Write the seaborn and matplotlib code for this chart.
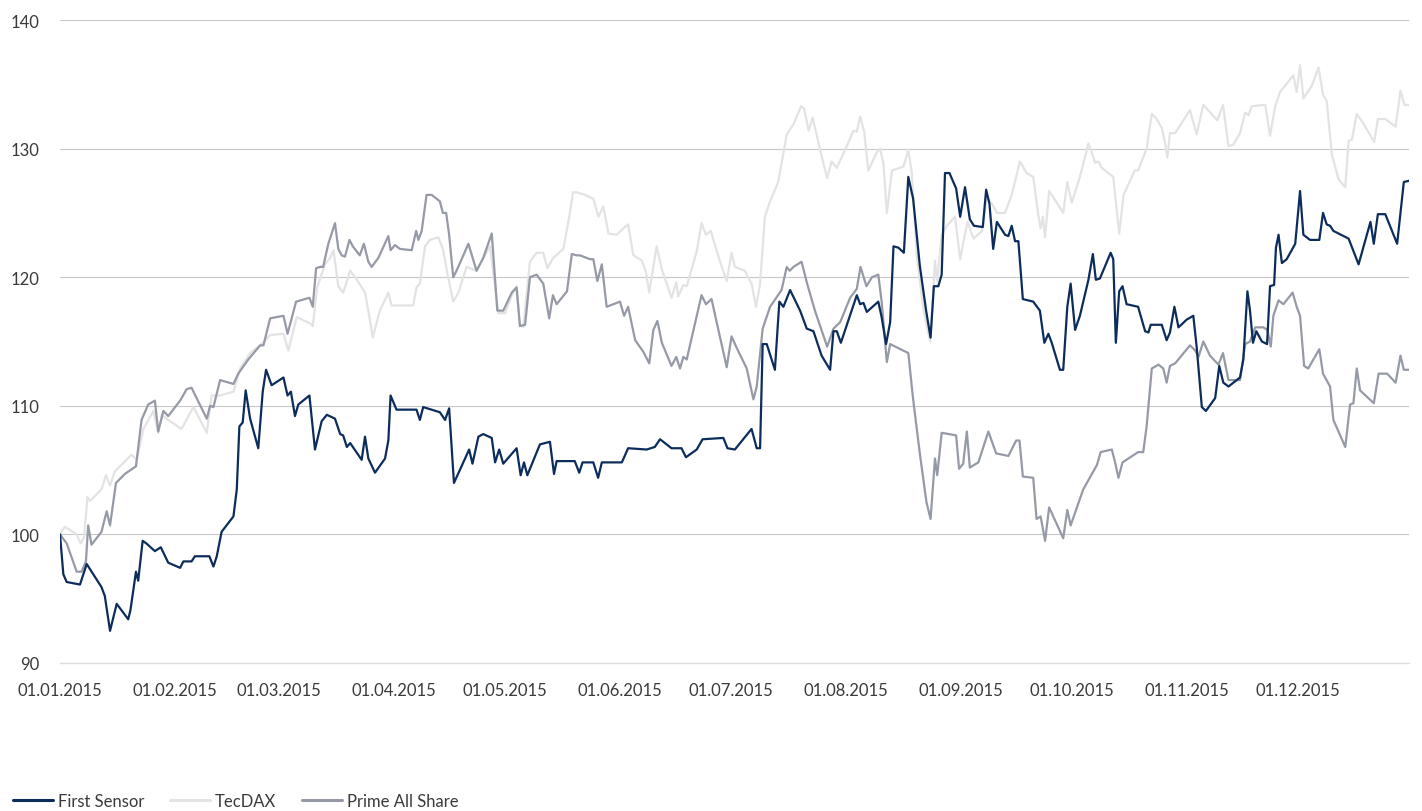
import pandas as pd
import matplotlib.pyplot as plt
import matplotlib.dates as mdates
import seaborn as sns

# Indexed performance 2015 (01.01.2015 = 100)
# days = days since 01.01.2015
fs_days = [0, 0.9, 1.8, 5.4, 7.2, 11.2, 12.1, 13.5, 15.3, 18.4, 19.0, 20.5, 21.1, 22.3, 23.3,
           25.6, 27.2, 29.2, 32.4, 33.3, 35.5, 36.4, 40.3, 41.4, 42.3, 43.6, 46.8, 47.7, 48.4,
           49.3, 50.1, 51.3, 53.5, 54.7, 55.6, 57.1, 60.3, 61.4, 62.3, 63.4, 64.3, 67.3, 68.8,
           70.6, 72.0, 74.2, 75.6, 76.4, 77.4, 78.3, 81.4, 82.3, 83.2, 85.0, 87.7, 88.6, 89.2,
           90.8, 96.2, 97.1, 98.0, 102.5, 103.9, 105.0, 106.3, 109.3, 110.4, 111.3, 112.9,
           114.2, 116.5, 117.4, 118.5, 119.6, 123.2, 124.3, 125.2, 126.1, 129.5, 130.9, 132.2,
           133.3, 134.0, 138.9, 140.1, 141.0, 143.9, 145.2, 146.2, 151.6, 153.3, 158.3, 160.5,
           161.9, 165.0, 167.7, 168.9, 171.8, 173.4, 179.0, 180.1, 182.1, 186.6, 188.0, 188.9,
           189.6, 190.7, 192.9, 194.1, 195.2, 197.0, 199.7, 201.5, 203.3, 205.5, 207.8, 208.7,
           209.6, 210.7, 215.0, 215.9, 216.8, 217.7, 220.8, 221.7, 222.9, 224.0, 224.9, 226.2,
           227.7, 228.9, 230.2, 232.0, 233.7, 234.9, 235.8, 237.0, 237.9, 238.8, 240.0, 241.8,
           242.9, 244.2, 245.5, 246.6, 249.0, 249.9, 250.8, 251.8, 252.8, 255.0, 255.9, 256.8,
           257.7, 258.6, 259.8, 262.6, 264.4, 265.6, 266.7, 267.6, 269.8, 270.7, 271.8, 272.7,
           273.9, 275.2, 277.5, 278.7, 279.5, 280.6, 283.5, 284.2, 284.9, 285.8, 286.7, 287.8,
           290.9, 292.8, 293.7, 294.3, 297.3, 298.6, 299.5, 300.7, 301.8, 304.0, 305.8, 306.7,
           308.1, 309.2, 311.7, 312.8, 313.9, 315.3, 318.4, 319.3, 320.4, 321.1, 321.9, 322.8,
           324.3, 325.7, 326.5, 327.6, 328.1, 328.8, 329.7, 331.0, 333.3, 334.6, 335.5, 337.3,
           339.8, 340.8, 341.8, 342.7, 343.6, 347.7, 350.4, 353.6, 354.5, 355.6, 357.6, 360.8,
           362.6, 364.0]
fs_values = [100.0, 96.9, 96.3, 96.1, 97.7, 95.9, 95.2, 92.5, 94.6, 93.4, 94.1, 97.1, 96.4, 99.5, 99.3,
             98.7, 99.0, 97.8, 97.4, 97.9, 97.9, 98.3, 98.3, 97.5, 98.3, 100.2, 101.4, 103.5, 108.4,
             108.7, 111.2, 109.0, 106.7, 111.1, 112.8, 111.6, 112.2, 110.8, 111.1, 109.2, 110.1, 110.8, 106.6,
             108.8, 109.3, 109.0, 107.8, 107.7, 106.8, 107.1, 105.8, 107.6, 105.9, 104.8, 105.9, 107.3, 110.8,
             109.7, 109.7, 108.9, 109.9, 109.5, 108.9, 109.8, 104.0, 105.9, 106.6, 105.5, 107.6,
             107.8, 107.5, 105.6, 106.6, 105.5, 106.7, 104.6, 105.6, 104.6, 107.0, 107.1, 107.2,
             104.7, 105.7, 105.7, 104.8, 105.6, 105.6, 104.4, 105.6, 105.6, 106.7, 106.6, 106.8,
             107.4, 106.7, 106.7, 106.0, 106.6, 107.4, 107.5, 106.7, 106.6, 108.2, 106.7, 106.7,
             114.8, 114.8, 112.8, 118.1, 117.7, 119.0, 117.4, 116.0, 115.8, 113.9, 112.8, 115.8,
             115.8, 114.9, 118.6, 117.9, 118.0, 117.3, 118.1, 116.9, 114.8, 116.5, 122.4, 122.3,
             121.9, 127.8, 126.1, 120.9, 117.4, 115.3, 119.3, 119.3, 120.2, 128.1, 128.1, 126.9,
             124.7, 127.0, 124.5, 124.0, 123.9, 126.8, 125.7, 122.2, 124.3, 123.3, 123.2, 124.0,
             122.8, 122.8, 118.3, 118.1, 117.4, 114.9, 115.6, 114.9, 112.8, 112.8, 117.7, 119.5,
             115.9, 117.0, 119.8, 121.8, 119.8, 119.9, 121.9, 121.4, 114.9, 118.9, 119.3, 117.9,
             117.7, 115.8, 115.7, 116.3, 116.3, 115.1, 115.7, 117.7, 116.1, 116.7, 117.0, 114.6,
             109.9, 109.6, 110.6, 113.1, 111.8, 111.5, 112.2, 113.6, 118.9, 117.4, 114.9, 115.8,
             115.0, 114.8, 119.3, 119.4, 122.3, 123.3, 121.1, 121.4, 122.6, 126.7, 123.3, 122.9,
             122.9, 125.0, 124.1, 124.0, 123.6, 123.0, 121.0, 124.3, 122.6, 124.9, 124.9, 122.6,
             127.4, 127.5]

tec_days = [0, 1.3, 4.5, 5.6, 6.5, 7.4, 8.1, 11.2, 12.4, 13.5, 14.8, 19.3, 20.7, 22.5, 25.2, 26.5,
            27.5, 29.2, 32.8, 36.0, 39.6, 40.9, 43.2, 46.8, 48.6, 51.3, 54.4, 56.7, 60.3, 61.6,
            63.9, 67.5, 68.2, 69.4, 71.5, 72.9, 73.8, 75.1, 76.4, 78.3, 80.1, 82.3, 83.2, 84.4,
            86.3, 88.6, 89.5, 95.3, 96.2, 97.1, 98.5, 99.8, 102.1, 103.4, 104.4, 106.1, 107.5,
            109.7, 112.4, 116.0, 118.3, 120.1, 121.9, 123.2, 124.1, 125.0, 126.8, 128.6, 130.4,
            131.5, 133.1, 135.8, 137.6, 138.4, 139.4, 141.7, 143.9, 145.3, 146.6, 148.0, 150.2,
            152.0, 153.3, 154.7, 157.0, 158.1, 159.0, 160.1, 161.0, 162.4, 165.0, 166.3, 166.8,
            168.2, 169.1, 171.8, 173.1, 174.3, 175.6, 178.1, 179.9, 181.2, 182.1, 184.8, 186.6,
            187.8, 188.9, 190.2, 191.6, 193.8, 196.1, 197.9, 200.0, 200.8, 202.0, 203.1, 205.1,
            207.0, 208.2, 209.6, 212.3, 214.1, 215.0, 215.9, 217.0, 218.1, 220.4, 221.3, 222.2,
            223.1, 224.5, 227.6, 228.9, 229.8, 231.2, 233.0, 234.8, 236.1, 236.7, 237.9, 239.3,
            241.5, 242.9, 243.8, 244.9, 246.5, 248.8, 250.1, 251.5, 252.8, 255.0, 256.8, 259.0,
            260.8, 262.6, 264.0, 264.6, 265.2, 265.8, 266.9, 268.5, 270.7, 271.8, 273.0, 275.2,
            277.5, 278.4, 279.3, 280.2, 281.1, 284.2, 285.8, 287.0, 290.0, 290.9, 293.2, 294.6,
            295.9, 297.3, 298.2, 298.8, 299.5, 300.9, 302.7, 304.9, 306.7, 308.5, 312.3, 313.8,
            315.3, 316.6, 318.4, 319.8, 320.7, 321.6, 325.2, 326.5, 327.9, 329.2, 332.8, 333.7,
            334.6, 335.5, 337.8, 339.6, 340.8, 341.8, 343.2, 345.0, 346.8, 347.7, 348.6, 349.9,
            351.8, 354.6, 355.6, 357.6, 360.4, 361.7, 362.8, 364.0]
tec_values = [100.0, 100.6, 100.0, 99.3, 99.8, 102.9, 102.6, 103.5, 104.6, 103.8, 104.9, 106.2, 105.8, 108.2, 109.6, 107.9,
              109.3, 108.9, 108.2, 109.9, 107.9, 110.8, 110.8, 111.1, 112.9, 114.1, 114.8, 115.5, 115.6, 114.3,
              116.9, 116.4, 116.2, 119.2, 121.0, 121.5, 122.1, 119.3, 118.8, 120.5, 119.8, 118.8, 117.4, 115.3,
              117.4, 118.8, 117.8, 117.8, 119.2, 119.5, 122.4, 122.9, 123.1, 122.1, 120.5, 118.1, 118.8,
              120.8, 120.5, 122.4, 117.2, 117.2, 118.6, 119.3, 116.3, 116.1, 121.2, 121.9, 121.9,
              120.7, 121.5, 122.2, 125.0, 126.6, 126.6, 126.4, 126.1, 124.7, 125.5, 123.4, 123.3,
              123.8, 124.1, 121.7, 121.3, 120.4, 118.8, 120.8, 122.4, 120.6, 118.4, 119.6, 118.5,
              119.4, 119.3, 122.0, 124.2, 123.3, 123.6, 121.2, 119.7, 121.9, 120.8, 120.5, 119.5,
              117.7, 119.5, 124.7, 125.9, 127.4, 131.1, 131.9, 133.3, 133.1, 131.4, 132.4, 129.9,
              127.7, 129.0, 128.5, 130.2, 131.4, 131.3, 132.5, 131.3, 128.3, 129.7, 130.0, 128.8,
              125.0, 128.3, 128.6, 129.9, 128.2, 121.6, 117.4, 115.0, 121.3, 119.7, 123.3, 124.0,
              124.7, 121.4, 122.8, 124.3, 123.0, 123.6, 126.2, 125.7, 125.0, 125.0, 126.4, 129.0,
              128.1, 127.8, 124.8, 123.8, 124.7, 123.1, 126.7, 126.0, 125.0, 127.4, 125.8, 127.8,
              130.4, 129.7, 128.9, 129.0, 128.5, 127.8, 123.4, 126.4, 128.3, 128.3, 130.0, 132.7,
              132.3, 131.6, 130.4, 129.3, 131.2, 131.2, 132.0, 133.0, 131.1, 133.4, 132.2, 133.4,
              130.2, 130.3, 131.2, 132.8, 132.6, 133.3, 133.4, 131.0, 133.3, 134.4, 135.7, 134.4,
              136.5, 133.9, 134.9, 136.3, 134.2, 133.7, 129.5, 127.6, 127.0, 130.6, 130.7, 132.7,
              131.9, 130.5, 132.3, 132.3, 131.7, 134.5, 133.4, 133.4]

pas_days = [0, 1.8, 4.5, 5.8, 7.0, 7.6, 8.5, 11.2, 12.6, 13.5, 15.1, 17.5, 20.5, 22.0, 23.8, 25.6,
            26.5, 27.9, 29.2, 32.4, 34.2, 35.5, 39.6, 40.5, 41.4, 43.2, 46.8, 48.1, 50.8, 54.0,
            54.9, 56.7, 60.3, 61.4, 63.7, 67.3, 68.2, 69.1, 70.2, 71.0, 72.4, 74.2, 75.1, 76.0,
            76.9, 78.1, 79.0, 80.9, 82.0, 83.2, 84.1, 85.9, 88.6, 89.2, 90.4, 91.7, 94.9, 96.1,
            96.7, 97.6, 98.9, 100.3, 102.5, 103.3, 104.2, 105.0, 106.1, 107.0, 110.2, 112.4,
            114.2, 116.5, 118.0, 119.6, 121.9, 123.2, 124.1, 125.5, 126.8, 128.6, 130.4, 132.0,
            133.0, 134.0, 136.8, 138.1, 139.4, 140.3, 143.0, 143.9, 145.0, 146.2, 147.5, 151.1,
            152.2, 153.3, 155.2, 157.4, 159.0, 160.1, 161.2, 162.4, 165.0, 166.3, 167.3, 168.2,
            169.1, 173.1, 174.3, 175.8, 179.9, 181.2, 182.6, 185.3, 187.1, 188.0, 189.6, 191.6,
            194.7, 196.1, 196.9, 197.9, 200.1, 201.5, 203.7, 207.0, 208.7, 210.5, 213.2, 215.0,
            216.0, 217.6, 219.1, 220.8, 221.7, 223.1, 224.0, 228.9, 230.2, 232.0, 233.8, 234.9,
            236.1, 236.7, 237.9, 241.8, 242.6, 243.7, 244.7, 245.5, 247.8, 250.5, 252.6, 255.9,
            258.0, 258.9, 259.8, 262.6, 263.5, 264.6, 265.8, 266.9, 270.7, 271.8, 272.7, 276.1,
            279.8, 280.8, 283.8, 284.7, 285.6, 286.7, 290.9, 292.3, 293.2, 294.6, 296.4, 297.7,
            298.6, 299.5, 300.9, 304.9, 306.3, 307.2, 308.5, 310.3, 312.6, 313.8, 315.3, 318.4,
            319.8, 321.1, 322.5, 324.7, 325.8, 326.7, 327.4, 328.8, 330.1, 332.6, 333.7, 334.6,
            335.7, 336.8, 339.8, 340.8, 342.7, 343.6, 346.8, 348.1, 349.0, 349.9, 350.8, 354.5,
            355.8, 358.1, 360.4, 361.7, 362.6, 364.0]
pas_values = [100.0, 99.3, 97.1, 97.1, 97.9, 100.7, 99.2, 100.2, 101.8, 100.7, 104.0, 104.7, 105.3, 108.9, 110.1, 110.4,
              108.0, 109.6, 109.2, 110.4, 111.3, 111.4, 109.0, 110.0, 109.9, 112.0, 111.7, 112.5, 113.6, 114.7,
              114.7, 116.8, 117.0, 115.6, 118.1, 118.4, 117.7, 120.7, 120.8, 120.8, 122.6, 124.2, 122.2, 121.7,
              121.6, 122.9, 122.4, 121.7, 122.6, 121.2, 120.8, 121.5, 123.2, 122.1, 122.5, 122.2, 122.1, 123.6,
              122.9, 123.6, 126.4, 126.4, 125.9, 125.0, 125.0, 123.3, 120.0, 120.5, 122.6, 120.5,
              121.5, 123.4, 117.4, 117.4, 118.8, 119.2, 116.2, 116.3, 120.0, 120.2, 119.5, 116.8,
              118.6, 117.9, 118.9, 121.8, 121.7, 121.7, 121.4, 121.4, 119.7, 121.0, 117.7, 118.1,
              117.0, 117.7, 115.1, 114.2, 113.3, 115.9, 116.6, 114.9, 113.1, 113.8, 112.9, 113.8,
              113.6, 118.6, 117.9, 118.3, 113.0, 115.4, 114.5, 112.9, 110.5, 111.5, 116.0, 117.7,
              119.0, 120.8, 120.5, 120.8, 121.2, 119.6, 117.4, 114.6, 116.0, 116.5, 118.4, 119.1,
              120.8, 119.3, 120.0, 120.2, 118.1, 113.4, 114.8, 114.1, 110.5, 106.3, 102.5, 101.2,
              105.9, 104.6, 107.9, 107.7, 105.1, 105.5, 108.0, 105.2, 105.6, 108.0, 106.3, 106.1,
              107.3, 107.3, 104.5, 104.4, 101.2, 101.4, 99.5, 102.1, 99.7, 101.9, 100.7, 103.5,
              105.4, 106.4, 106.6, 105.6, 104.4, 105.6, 106.4, 106.4, 108.4, 112.9, 113.2, 112.9,
              111.8, 113.1, 113.3, 114.7, 114.3, 113.8, 115.0, 113.9, 113.2, 114.1, 112.0, 112.0,
              114.8, 115.0, 116.1, 116.1, 115.9, 114.6, 117.0, 118.2, 117.9, 118.8, 117.7, 117.0,
              113.1, 112.9, 114.4, 112.5, 111.5, 108.9, 106.8, 110.1, 110.2, 112.9, 111.2, 110.2,
              112.5, 112.5, 111.8, 113.9, 112.8, 112.8]

series = [
    ("TecDAX", tec_days, tec_values, "#e3e3e3"),
    ("Prime All Share", pas_days, pas_values, "#959aa6"),
    ("First Sensor", fs_days, fs_values, "#0c2d5c"),
]
legend_order = ["First Sensor", "TecDAX", "Prime All Share"]

start = pd.Timestamp("2015-01-01")

sns.set_style("white")
plt.rcParams["font.family"] = ["Lato", "DejaVu Sans"]
text_color = "#3a3a3a"

fig = plt.figure(figsize=(14.22, 8.12), dpi=100)
ax = fig.add_axes([60 / 1422, 1 - 664 / 812, 1349 / 1422, 643 / 812])

for name, days, values, color in series:
    df = pd.DataFrame({"date": start + pd.to_timedelta(days, unit="D"), "value": values})
    sns.lineplot(data=df, x="date", y="value", ax=ax, color=color, linewidth=1.6,
                 estimator=None, label=name)

ax.set_xlim(start, pd.Timestamp("2015-12-31"))
ax.set_ylim(90, 140)
ax.set_yticks([90, 100, 110, 120, 130, 140])
ax.xaxis.set_major_locator(mdates.MonthLocator())
ax.xaxis.set_major_formatter(mdates.DateFormatter("%d.%m.%Y"))
ax.set_xlabel("")
ax.set_ylabel("")

ax.grid(axis="y", color="#c8c8c8", linewidth=0.8)
ax.grid(axis="x", visible=False)
for side in ["left", "right", "top"]:
    ax.spines[side].set_visible(False)
ax.spines["bottom"].set_color("#dedede")
ax.spines["bottom"].set_linewidth(1.0)
ax.tick_params(axis="y", length=0, pad=15, labelsize=12, labelcolor=text_color)
ax.tick_params(axis="x", length=5, width=1, color="#dedede", pad=9,
               labelsize=12, labelcolor=text_color)

handles, labels = ax.get_legend_handles_labels()
ax.get_legend().remove()
lookup = dict(zip(labels, handles))
leg = fig.legend([lookup[n] for n in legend_order], legend_order,
                 loc="center left", bbox_to_anchor=(13 / 1422, 10 / 812), ncol=3,
                 frameon=False, fontsize=12, handlelength=2.4, handletextpad=0.3,
                 columnspacing=1.55, borderpad=0, borderaxespad=0, labelcolor=text_color)
for line in leg.get_lines():
    line.set_linewidth(2.2)

fig.savefig("out.png", dpi=100)
